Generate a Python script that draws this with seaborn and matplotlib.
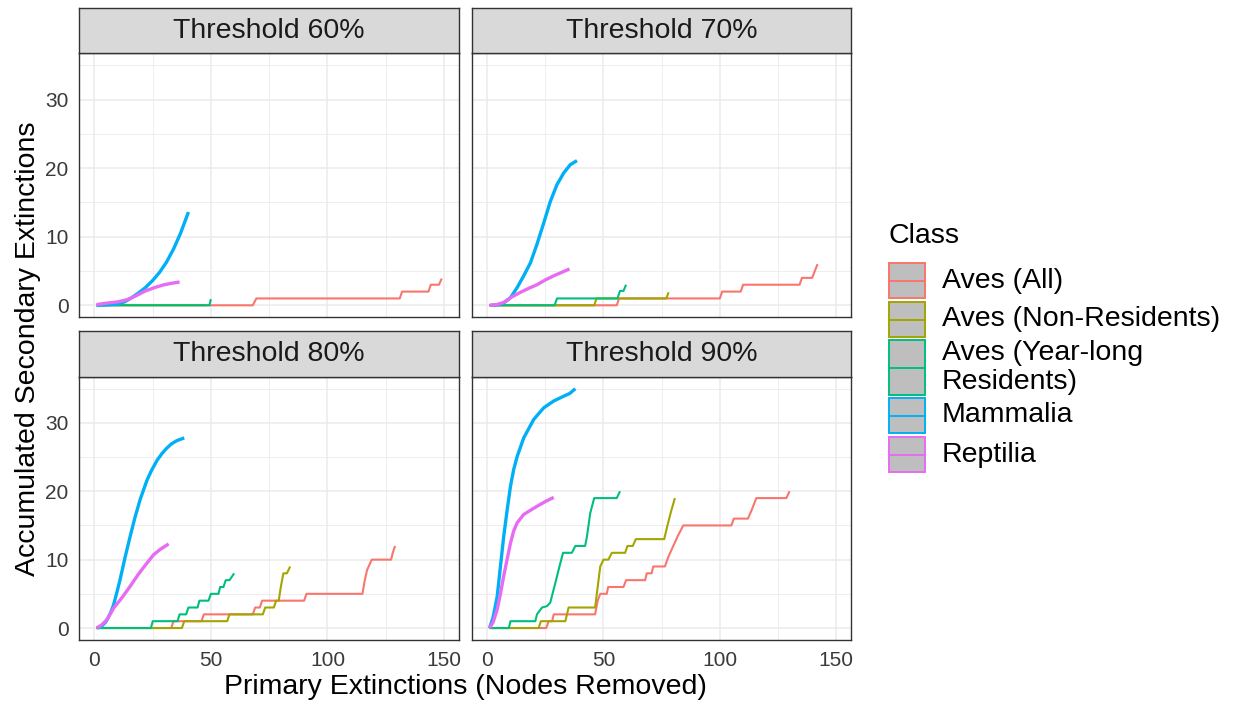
import matplotlib
matplotlib.use("Agg")
import matplotlib.pyplot as plt
from matplotlib.patches import Rectangle
from matplotlib.lines import Line2D
import pandas as pd
import seaborn as sns

# ---- categories, labels, colours ----
classes = ["Aves (All)", "Aves (Non-Residents)", "Aves (Year-long Residents)",
           "Mammalia", "Reptilia"]
legend_labels = ["Aves (All)", "Aves (Non-Residents)", "Aves (Year-long\nResidents)",
                 "Mammalia", "Reptilia"]
class_colors = ["#F8766D", "#A3A500", "#00BF7D", "#00B0F6", "#E76BF3"]
thresholds = ["60%", "70%", "80%", "90%"]
x_ticks = [0, 50, 100, 150]
y_ticks = [0, 10, 20, 30]

# ---- Threshold 60% ----
x60_all = [1, 68, 69.5, 131, 132, 143.3, 144.3, 147.8, 149]
y60_all = [0, 0, 1, 1, 2, 2, 3, 3, 3.9]
x60_non = [1, 48]
y60_non = [0, 0]
x60_res = [1, 49.4, 50]
y60_res = [0, 0, 0.9]
x60_mam = [1, 5, 10, 13, 16, 19, 22, 25, 28, 31, 34, 37, 40.4]
y60_mam = [0, 0.05, 0.2, 0.5, 1.1, 1.8, 2.6, 3.6, 4.8, 6.3, 8.2, 10.5, 13.6]
x60_rep = [1, 5, 10, 14, 18, 22, 26, 30, 33, 36.6]
y60_rep = [0.1, 0.3, 0.5, 0.8, 1.4, 2.1, 2.6, 3.0, 3.2, 3.4]

# ---- Threshold 70% ----
x70_all = [1, 55.7, 56.7, 100, 101, 109, 110, 134.3, 135.3, 139.7, 142]
y70_all = [0, 0, 1, 1, 2, 2, 3, 3, 4, 4, 6]
x70_non = [1, 46, 47, 77, 78]
y70_non = [0, 0, 1, 1, 1.9]
x70_res = [1, 29, 30, 56, 57.1, 58.6, 59.7]
y70_res = [0, 0, 1, 1, 2.1, 2.1, 3]
x70_mam = [1.4, 4, 7, 10, 12.9, 15.7, 18.6, 21.4, 24.3, 27.1, 30, 32.9, 35.7, 38.6]
y70_mam = [0, 0.05, 0.3, 1.1, 2.6, 4.3, 6.2, 8.9, 12.0, 15.1, 17.6, 19.3, 20.5, 21.1]
x70_rep = [1, 4, 7, 10, 14.3, 18, 21.4, 25, 28.6, 32, 35.4]
y70_rep = [0, 0.1, 0.4, 1.1, 1.9, 2.5, 3.0, 3.7, 4.3, 4.8, 5.3]

# ---- Threshold 80% ----
x80_all = [1, 33, 34, 46, 47, 68, 69, 71, 72, 90, 91, 115, 116, 117, 119, 127.3, 128, 129]
y80_all = [0, 0, 1, 1, 2, 2, 3, 3, 4, 4, 5, 5, 7, 8.5, 10, 10, 11, 12]
x80_non = [1, 37.6, 38.6, 57, 58, 72.3, 73.3, 77, 78, 79.1, 80, 81.1, 82.6, 84]
y80_non = [0, 0, 1, 1, 2, 2, 3, 3, 4, 4, 6, 8, 8, 9]
x80_res = [1, 24.3, 25.1, 35.7, 36.6, 39.4, 40.4, 44.3, 45.1, 49, 50, 53.3, 54,
           55.4, 56.4, 58, 60]
y80_res = [0, 0, 1, 1, 2, 2, 3, 3, 4, 4, 5, 5, 6, 6, 7, 7, 8]
x80_mam = [1, 3, 5, 7, 8.3, 9.7, 11.1, 13.2, 15.4, 17.5, 19.7, 22.6, 24.5, 26.9,
           29, 31.1, 33, 35.4, 38.6]
y80_mam = [0, 0.2, 0.9, 2.2, 3.4, 5.2, 7.1, 10.3, 13.4, 16.2, 18.8, 21.6, 23.0,
           24.5, 25.5, 26.3, 26.9, 27.4, 27.8]
x80_rep = [1, 3, 5.4, 8.3, 11.8, 15.4, 19, 22.6, 25.4, 28.3, 31.9]
y80_rep = [0, 0.4, 1.2, 2.9, 4.4, 6.1, 7.9, 9.5, 10.7, 11.5, 12.3]

# ---- Threshold 90% ----
x90_all = [1, 25.4, 26.4, 27.9, 28.6, 46.4, 47.5, 48.6, 51.4, 52, 58.6, 59.7, 67.9,
           68.6, 70.7, 71.4, 76.4, 78, 80, 82, 84.3, 105, 106, 112.1, 114, 115.7,
           128.6, 130]
y90_all = [0, 0, 1, 1, 2, 2, 4, 5, 5, 6, 6, 7, 7, 8, 8, 9, 9, 10.5, 12, 13.5, 15,
           15, 16, 16, 17.5, 19, 19, 20]
x90_non = [1, 22.1, 23.1, 33.6, 34.3, 35, 46.4, 47.5, 48.6, 50, 52.1, 53.6, 59.3,
           60.3, 62.6, 63.9, 76.1, 77.5, 79, 80.7]
y90_non = [0, 0, 1, 1, 2, 3, 3, 6, 9, 10, 10, 11, 11, 12, 12, 13, 13, 15, 17, 19]
x90_res = [1, 9.3, 10, 20.7, 21.4, 23.6, 25.7, 27.1, 29.3, 30.7, 32.6, 36.4, 37.9,
           42.1, 42.9, 44.3, 46, 55.7, 57.1]
y90_res = [0, 0, 1, 1, 2, 3, 3.2, 3.7, 6.6, 8.5, 11, 11, 12, 12, 13.4, 16.8, 19, 19, 20]
x90_mam = [1, 2.5, 4.3, 5.7, 7.1, 8.6, 10, 11.4, 12.9, 15.7, 20, 24.3, 28.6, 32.9,
           35.5, 37.9]
y90_mam = [0, 1.5, 4.6, 9.0, 13.4, 17.3, 20.7, 23.2, 25.1, 27.8, 30.5, 32.2, 33.2,
           33.9, 34.3, 35]
x90_rep = [1, 2.5, 4.3, 5.7, 7.1, 8.6, 10, 11.4, 12.9, 15.7, 18.5, 21.4, 25, 28.6]
y90_rep = [0, 0.8, 2.7, 5.0, 7.6, 10.1, 12.4, 14.2, 15.4, 16.6, 17.2, 17.8, 18.5, 19.1]

series = {
    "60%": [(x60_all, y60_all), (x60_non, y60_non), (x60_res, y60_res),
            (x60_mam, y60_mam), (x60_rep, y60_rep)],
    "70%": [(x70_all, y70_all), (x70_non, y70_non), (x70_res, y70_res),
            (x70_mam, y70_mam), (x70_rep, y70_rep)],
    "80%": [(x80_all, y80_all), (x80_non, y80_non), (x80_res, y80_res),
            (x80_mam, y80_mam), (x80_rep, y80_rep)],
    "90%": [(x90_all, y90_all), (x90_non, y90_non), (x90_res, y90_res),
            (x90_mam, y90_mam), (x90_rep, y90_rep)],
}

rows = []
for thr in thresholds:
    for cls, (xs, ys) in zip(classes, series[thr]):
        for xv, yv in zip(xs, ys):
            rows.append({"Threshold": thr, "Class": cls, "Primary": xv, "Secondary": yv})
df = pd.DataFrame(rows)

# ---- styling ----
sns.set_style("white")
plt.rcParams["font.family"] = ["Liberation Sans", "DejaVu Sans"]

W, H = 1233, 704
fig = plt.figure(figsize=(W / 100, H / 100), dpi=100)
fig.patch.set_facecolor("white")


def box(left, top, right, bottom):
    return [left / W, 1 - bottom / H, (right - left) / W, (bottom - top) / H]


col_edges = [(79.3, 459.0), (472.3, 851.0)]
row_edges = [((8.3, 53.3), (53.3, 317.3)), ((331.0, 376.7), (376.7, 640.0))]
line_widths = {"Aves (All)": 1.5, "Aves (Non-Residents)": 1.5,
               "Aves (Year-long Residents)": 1.5, "Mammalia": 2.4, "Reptilia": 2.4}
palette = dict(zip(classes, class_colors))

for i, thr in enumerate(thresholds):
    r, c = divmod(i, 2)
    (sl, sr) = col_edges[c]
    (strip_tb, plot_tb) = row_edges[r]
    ax = fig.add_axes(box(sl, plot_tb[0], sr, plot_tb[1]))
    st = fig.add_axes(box(sl, strip_tb[0], sr, strip_tb[1]))

    sub = df[df["Threshold"] == thr]
    for cls in classes:
        d = sub[sub["Class"] == cls]
        sns.lineplot(data=d, x="Primary", y="Secondary", ax=ax, color=palette[cls],
                     linewidth=line_widths[cls], estimator=None, sort=False,
                     legend=False, solid_capstyle="butt")

    ax.set_xlim(-6.4, 156.4)
    ax.set_ylim(-1.75, 36.75)
    ax.set_xticks(x_ticks)
    ax.set_xticks([25, 75, 125], minor=True)
    ax.set_yticks(y_ticks)
    ax.set_yticks([5, 15, 25, 35], minor=True)
    ax.grid(which="major", color="#EBEBEB", linewidth=1.1)
    ax.grid(which="minor", color="#EBEBEB", linewidth=0.6)
    ax.set_axisbelow(True)
    ax.set_xlabel("")
    ax.set_ylabel("")
    ax.set_facecolor("white")
    for sp in ax.spines.values():
        sp.set_color("#333333")
        sp.set_linewidth(1.0)
    ax.tick_params(which="minor", length=0)
    ax.tick_params(which="major", length=5.2, width=1.0, color="#333333",
                   labelsize=15, labelcolor="#3A3A3A", pad=2.5)
    if c == 1:
        ax.tick_params(axis="y", which="major", length=0, labelleft=False)
    if r == 0:
        ax.tick_params(axis="x", which="major", length=0, labelbottom=False)

    st.set_facecolor("#D9D9D9")
    st.set_xticks([])
    st.set_yticks([])
    for sp in st.spines.values():
        sp.set_color("#333333")
        sp.set_linewidth(1.0)
    st.text(0.5, 0.5, f"Threshold {thr}", transform=st.transAxes, ha="center",
            va="center", fontsize=20.5, color="#1A1A1A")

# ---- axis titles ----
fig.text(465 / W, 1 - 687 / H, "Primary Extinctions (Nodes Removed)", ha="center",
         va="center", fontsize=20.5, color="black")
fig.text(28 / W, 1 - 349 / H, "Accumulated Secondary Extinctions", ha="center",
         va="center", rotation=90, fontsize=20.5, color="black")

# ---- legend ----
fig.text(889 / W, 1 - 236 / H, "Class", ha="left", va="center", fontsize=20.5,
         color="black")
key_spans = [(263, 298), (302, 337), (340, 395), (398, 433), (437, 472)]
key_left, key_right = 889, 925
for lab, col, (kt, kb) in zip(legend_labels, class_colors, key_spans):
    fig.patches.append(Rectangle((key_left / W, 1 - kb / H), (key_right - key_left) / W,
                                 (kb - kt) / H, transform=fig.transFigure,
                                 facecolor="#BEBEBE", edgecolor=col, linewidth=1.4))
    ymid = 1 - (kt + kb) / 2 / H
    fig.lines.append(Line2D([key_left / W, key_right / W], [ymid, ymid],
                            transform=fig.transFigure, color=col, linewidth=1.4))
    fig.text(941.7 / W, ymid, lab, ha="left", va="center", fontsize=20.5,
             color="black", linespacing=1.15)

fig.savefig("out.png", dpi=100)
